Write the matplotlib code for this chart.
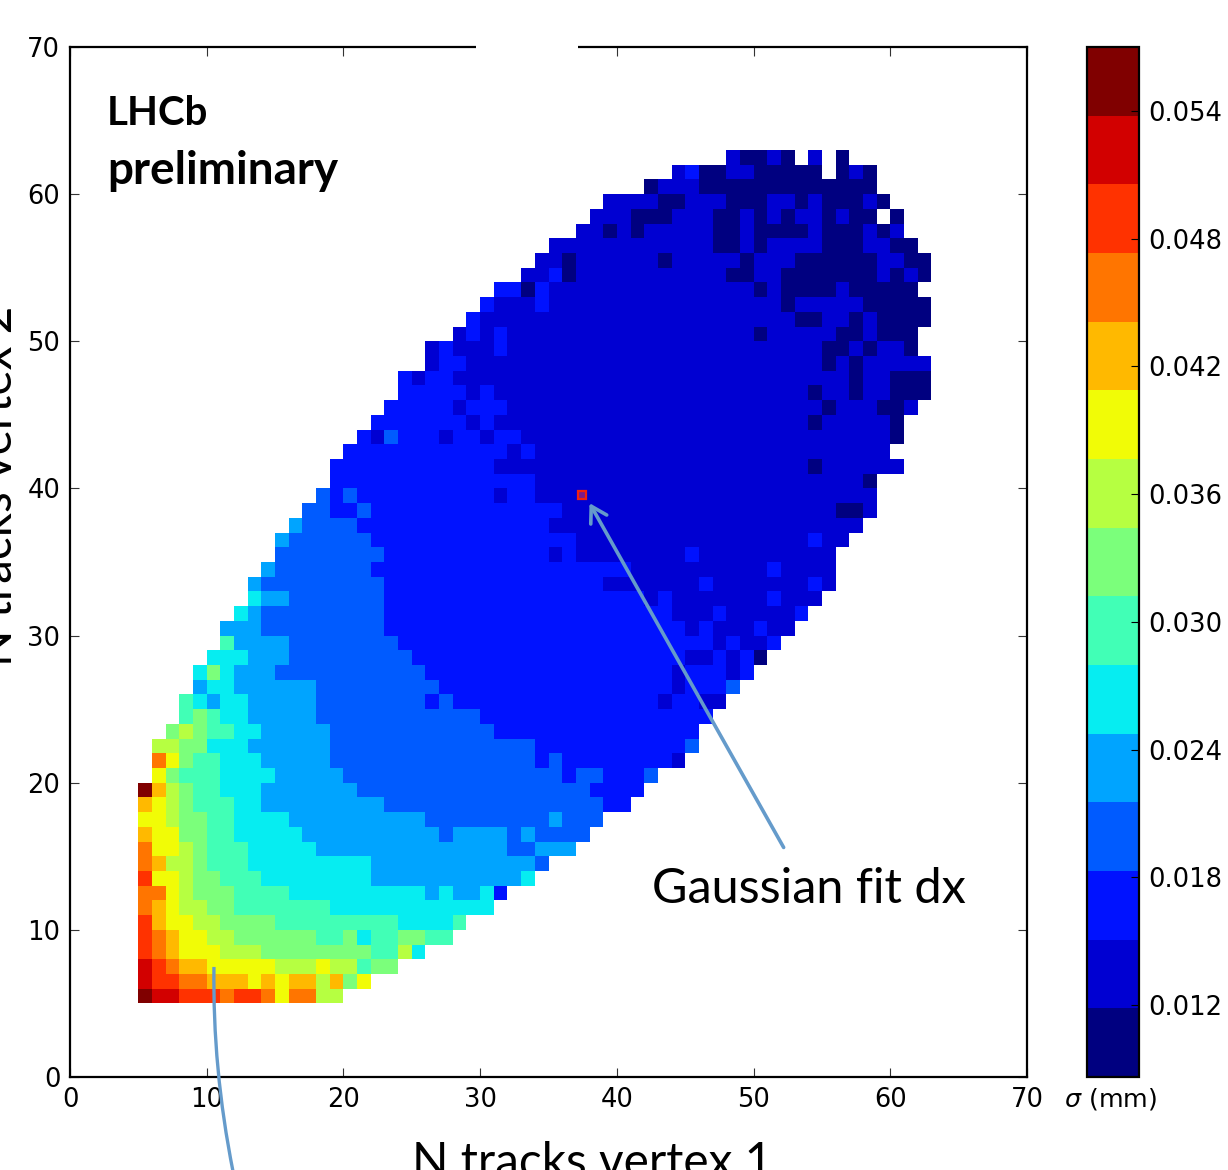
import numpy as np
import matplotlib
matplotlib.use("Agg")
import matplotlib.pyplot as plt
from matplotlib.patches import Rectangle, PathPatch, FancyArrowPatch
from matplotlib.path import Path

W, H = 1228, 1170

# Sigma value (mm) of each of the 15 colour bins
sigma_bins = [0.01023, 0.01346, 0.01668, 0.01991, 0.02313, 0.02636, 0.02958, 0.03281,
              0.03603, 0.03926, 0.04248, 0.04571, 0.04893, 0.05216, 0.05538]
sigma_min, sigma_max = 0.00862, 0.057
cbar_ticks = [0.012, 0.018, 0.024, 0.030, 0.036, 0.042, 0.048, 0.054]
axis_ticks = [0, 10, 20, 30, 40, 50, 60, 70]

# Rows of the map, N tracks vertex 2 = 5, 6, ...
# row_first_col: first filled N tracks vertex 1
# row_runs: runs written as <bin in base 15><run length>, '.' = empty
row_first_col = [5, 5, 5, 5, 5, 5, 5, 5, 5, 5, 5, 5, 5, 5, 5, 6, 6, 6, 7, 8, 8, 9, 9, 10, 11, 11,
                 12, 13, 13, 14, 15, 15, 16, 17, 18, 19, 19, 20, 21, 22, 23, 24, 24, 26, 26, 28,
                 29, 30, 31, 33, 34, 35, 37, 38, 39, 42, 44, 48]
row_runs = [
    "e1 d2 c3 b1 c2 b1 91 b2 82",
    "d1 c2 b2 a3 91 a1 91 a2 81 a1 71 91",
    "d1 c1 b1 a2 95 83 91 82 61 72",
    "c1 b1 a1 93 83 78 62 81 51",
    "c1 b1 a1 92 82 76 62 71 51 62 72 62",
    "c1 a1 92 82 74 69 54 61",
    "b1 a1 91 82 72 67 512",
    "b2 91 81 73 64 510 41 51 42 51 21",
    "c1 92 81 72 63 58 411 51",
    "b1 a1 82 71 63 59 412 31",
    "b1 92 81 71 63 55 414 32 43",
    "a1 92 72 62 55 410 31 44 31 41 34",
    "92 81 72 62 54 410 39 41 33",
    "a1 91 81 71 63 52 49 316 22",
    "e1 a1 81 71 62 53 47 317 24",
    "91 71 63 54 45 316 21 32 23 31",
    "b1 91 71 62 53 45 315 21 31 28 11",
    "82 72 53 46 315 211 31",
    "71 81 71 62 52 45 312 215",
    "61 71 61 52 45 312 217",
    "61 51 41 52 45 38 21 31 215 11 22 12",
    "41 52 46 39 217 11 23 31",
    "51 71 51 43 311 218 11 23 11 21",
    "53 43 39 220 12 21 11 21 01",
    "61 44 38 223 11 21 12 21",
    "43 39 222 11 21 13 21 12",
    "51 41 39 221 13 21 15 21",
    "51 42 37 219 11 21 17 21 13",
    "41 39 216 17 21 17 21 11",
    "41 37 219 110 21 14",
    "38 212 11 21 18 21 110",
    "41 36 215 117 21 12",
    "41 34 214 123",
    "32 22 31 214 120 02 11",
    "31 21 31 210 11 22 125",
    "215 124 01",
    "212 123 01 16",
    "212 11 21 126",
    "21 11 31 23 11 22 11 22 127 01",
    "27 11 21 123 01 15 01",
    "25 11 23 123 01 13 02 11",
    "25 11 21 123 01 12 01 12 03",
    "21 11 22 129 01 12 03",
    "11 22 126 01 11 01 15",
    "11 21 13 21 123 02 11 01 12 01",
    "11 21 11 21 118 01 15 02 11 03",
    "21 123 02 12 01 11 04",
    "21 13 21 117 01 15 05",
    "22 01 21 115 01 11 04 11 05",
    "12 21 01 111 02 12 07 11 01 11 01",
    "12 01 16 01 15 01 13 06 12 02",
    "112 02 11 01 14 03 12 02",
    "12 01 11 01 15 02 11 04 11 03 11 01 11",
    "13 03 13 02 11 01 11 01 12 01 11 02 .1 01",
    "14 02 13 03 12 01 11 03 11 01",
    "01 13 013",
    "11 21 02 12 05 .1 01 11 01",
    "11 02 11 01 .1 11 .1 01",
]
first_row = 5
n_edges = 64

grid = np.full((n_edges - 1, n_edges - 1), np.nan)
for i, (start, runs) in enumerate(zip(row_first_col, row_runs)):
    col = start
    for tok in runs.split():
        n = int(tok[1:])
        if tok[0] != ".":
            grid[first_row + i, col:col + n] = sigma_bins[int(tok[0], 15)]
        col += n

fig = plt.figure(figsize=(W / 100, H / 100), dpi=100, facecolor="white")
ax = fig.add_axes([70 / W, 1 - 1077 / H, (1027 - 70) / W, (1077 - 47) / H])
edges = np.arange(n_edges)
mesh = ax.pcolormesh(edges, edges, np.ma.masked_invalid(grid),
                     cmap=plt.get_cmap("jet", 15), vmin=sigma_min, vmax=sigma_max,
                     antialiased=False, linewidth=0, rasterized=True)
ax.set_xlim(0, 70)
ax.set_ylim(0, 70)
ax.set_xticks(axis_ticks)
ax.set_yticks(axis_ticks)
ax.tick_params(direction="in", length=6.5, width=0.8, top=True, right=True,
               labelsize=18.5, pad=7, color="#333333")
for s in ax.spines.values():
    s.set_linewidth(1.6)

cax = fig.add_axes([1087 / W, 1 - 1077 / H, (1139 - 1087) / W, (1077 - 47) / H])
cb = fig.colorbar(mesh, cax=cax, ticks=cbar_ticks)
cb.ax.set_yticklabels([f"{t:.3f}" for t in cbar_ticks])
cb.ax.tick_params(direction="in", length=6, width=0.8, labelsize=18.6, pad=6.5, color="black")
cb.outline.set_linewidth(1.6)
cb.ax.minorticks_off()
fig.text(1111 / W, 1 - 1099 / H, r"$\sigma$ (mm)", fontsize=18.3, ha="center", va="center")

main_font = "Lato"
fig.text(107 / W, 1 - 125 / H, "LHCb", family=main_font, weight="bold", fontsize=29,
         ha="left", va="baseline")
fig.text(107 / W, 1 - 184 / H, "preliminary", family=main_font, weight="bold", fontsize=33,
         ha="left", va="baseline")
fig.text(652 / W, 1 - 903 / H, "Gaussian fit dx", family=main_font, fontsize=35,
         ha="left", va="baseline")
fig.text(592 / W, 1 - 1177 / H, "N tracks vertex 1", family=main_font, fontsize=34.4,
         ha="center", va="baseline")
fig.text(20 / W, 1 - 486 / H, "N tracks vertex 2", family=main_font, fontsize=34.4,
         rotation=90, ha="right", va="center")

# Gap in the top frame
fig.add_artist(Rectangle((476 / W, 1 - 60 / H), 102 / W, 36 / H, transform=fig.transFigure,
                         facecolor="white", edgecolor="none", zorder=10))

# Annotations
arrow_blue = "#659bcb"
ax.add_patch(Rectangle((37.17, 39.3), 0.58, 0.52, facecolor="#7a1a8c", edgecolor="#f02010",
                       linewidth=1.6, zorder=5))
ax.add_patch(FancyArrowPatch((52.2, 15.6), (38.0, 39.0),
                             arrowstyle="->,head_length=5,head_width=3",
                             mutation_scale=2.2, color=arrow_blue, linewidth=2.6,
                             shrinkA=0, shrinkB=0, zorder=6))
curve = Path([(10.53, 7.48), (10.42, 0.6), (11.92, -6.4)], [Path.MOVETO, Path.CURVE3, Path.CURVE3])
ax.add_patch(PathPatch(curve, facecolor="none", edgecolor=arrow_blue, linewidth=2.4,
                       clip_on=False, zorder=6))

fig.savefig("out.png", dpi=100)
